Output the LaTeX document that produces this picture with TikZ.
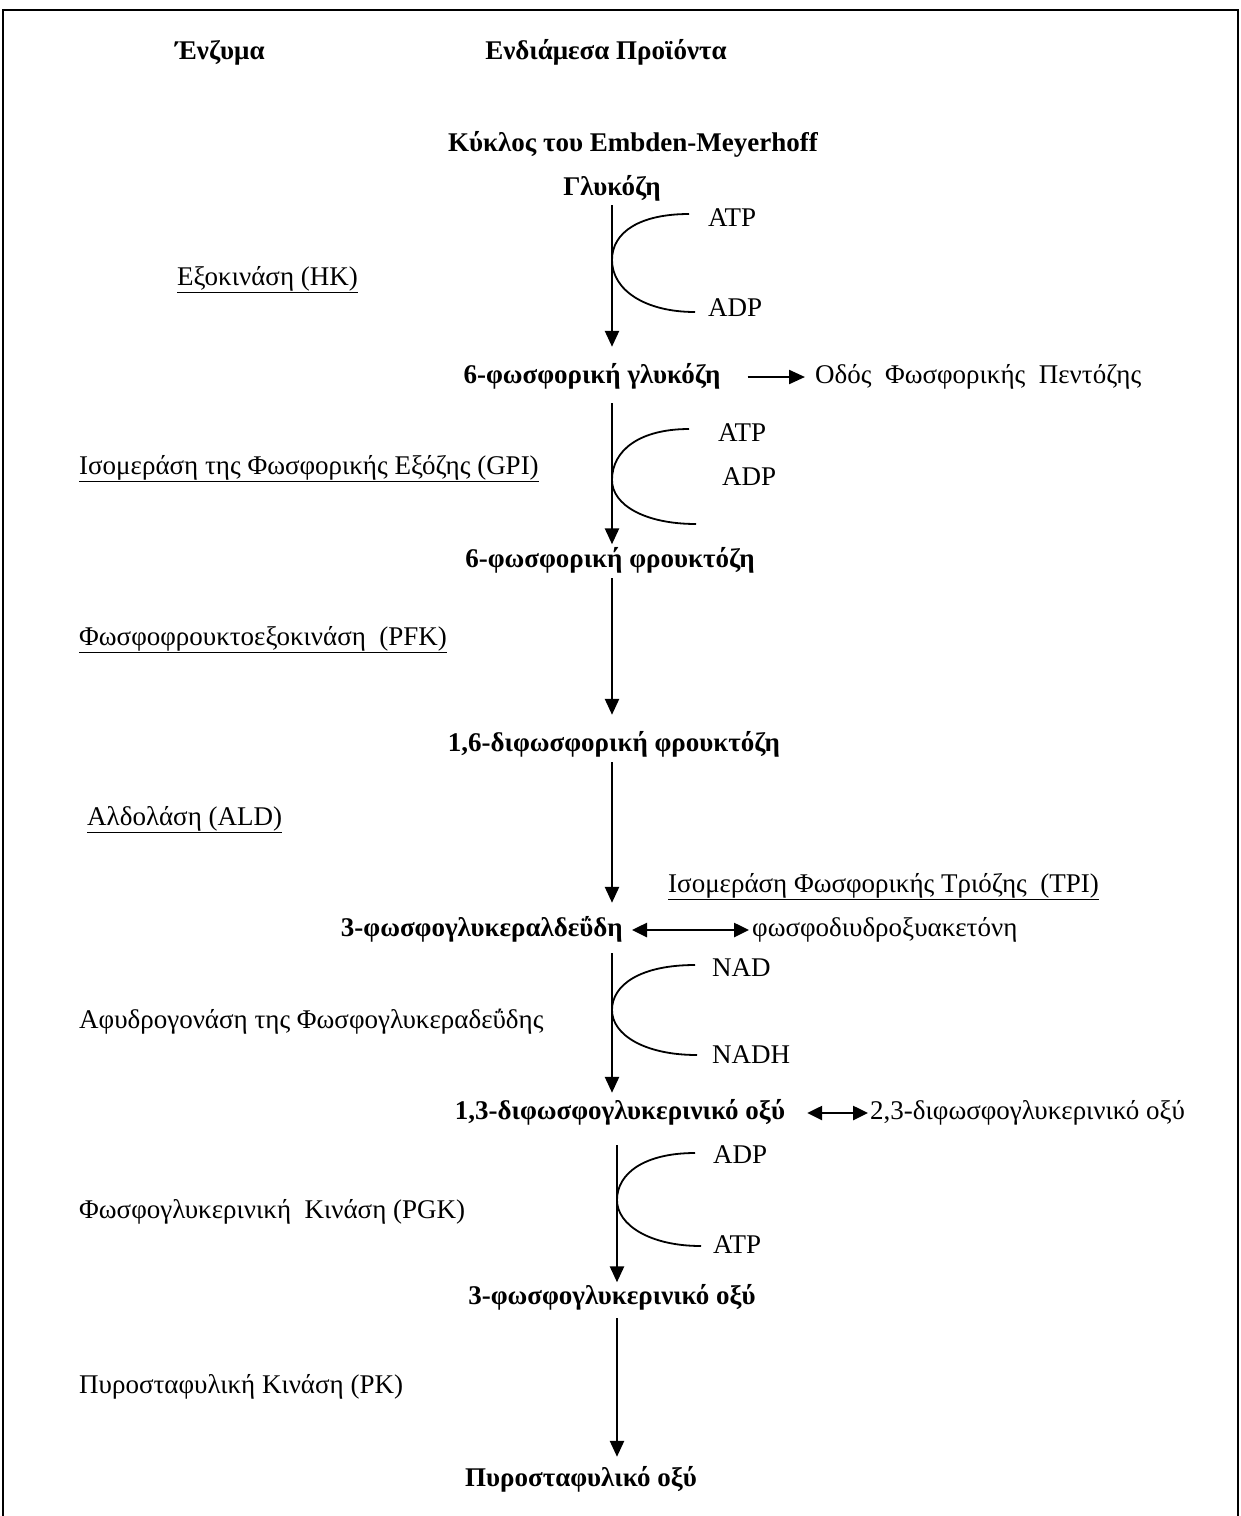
\documentclass[tikz,border=0pt]{standalone}
\usepackage{fontspec}
\setmainfont{Liberation Serif}
\usetikzlibrary{arrows.meta}
\begin{document}
\begin{tikzpicture}[x=1pt,y=-1pt,
  every node/.style={inner sep=0pt,font=\fontsize{27}{31}\selectfont,text height=19pt,text depth=6pt},
  prod/.style={font=\fontsize{27}{31}\selectfont\bfseries},
  lbl/.style={anchor=west},
  arr/.style={line width=2.5pt,-{Triangle[length=16pt,width=14pt]}},
  darr/.style={line width=2.6pt,{Triangle[length=15pt,width=14pt]}-{Triangle[length=15pt,width=14pt]}},
  cof/.style={line width=1.8pt}]
\useasboundingbox (0,0) rectangle (1241,1516);
\draw[line width=1.5pt] (3,1516) -- (3,10) -- (1238,10) -- (1238,1516);
% headers
\node[prod] (h1) at (220,53) {Ένζυμα};
\node[prod] (h2) at (606,53) {Ενδιάμεσα Προϊόντα};
\node[prod] (cyc) at (633,145) {Κύκλος του Embden-Meyerhoff};
% products
\node[prod] (glc) at (612,189) {Γλυκόζη};
\node[prod] (g6p) at (592,377) {6-φωσφορική γλυκόζη};
\node[prod] (f6p) at (610,561) {6-φωσφορική φρουκτόζη};
\node[prod] (fbp) at (614,745) {1,6-διφωσφορική φρουκτόζη};
\node[prod,anchor=east] (gap) at (623,930) {3-φωσφογλυκεραλδεΰδη};
\node[prod] (bpg) at (620,1113) {1,3-διφωσφογλυκερινικό οξύ};
\node[prod] (pg3) at (612,1298) {3-φωσφογλυκερινικό οξύ};
\node[prod] (pyr) at (581,1480) {Πυροσταφυλικό οξύ};
% side products
\node[lbl] (ppp) at (815,377) {Οδός\ \ Φωσφορικής\ \ Πεντόζης};
\node[lbl] (dhap) at (752,930) {φωσφοδιυδροξυακετόνη};
\node[lbl] (dpg) at (870,1113) {2,3-διφωσφογλυκερινικό οξύ};
% enzymes
\node[lbl] (hk) at (177,279) {\underline{Εξοκινάση (HK)}};
\node[lbl] (gpi) at (79,468) {\underline{Ισομεράση της Φωσφορικής Εξόζης (GPI)}};
\node[lbl] (pfk) at (79,639) {\underline{Φωσφοφρουκτοεξοκινάση\ \ (PFK)}};
\node[lbl] (ald) at (87,819) {\underline{Αλδολάση (ALD)}};
\node[lbl] (tpi) at (668,886) {\underline{Ισομεράση Φωσφορικής Τριόζης\ \ (TPI)}};
\node[lbl] (gapdh) at (79,1022) {Αφυδρογονάση της Φωσφογλυκεραδεΰδης};
\node[lbl] (pgk) at (79,1212) {Φωσφογλυκερινική\ \ Κινάση (PGK)};
\node[lbl] (pk) at (79,1387) {Πυροσταφυλική Κινάση (PK)};
% cofactors
\node[lbl] (atp1) at (708,220) {ATP};
\node[lbl] (adp1) at (708,310) {ADP};
\node[lbl] (atp2) at (718,435) {ATP};
\node[lbl] (adp2) at (722,479) {ADP};
\node[lbl] (nad) at (712,970) {NAD};
\node[lbl] (nadh) at (712,1057) {NADH};
\node[lbl] (adp3) at (713,1157) {ADP};
\node[lbl] (atp3) at (713,1247) {ATP};
% axes
\coordinate (ax) at (612,0);
\coordinate (ax2) at (617,0);
% main arrows
\draw[arr,shorten <=3.5pt,shorten >=17.5pt] (glc.south -| ax) -- (g6p.north -| ax);
\draw[arr,shorten <=13.5pt,shorten >=4pt] (g6p.south -| ax) -- (f6p.north -| ax);
\draw[arr,shorten <=4.5pt,shorten >=17.5pt] (f6p.south -| ax) -- (fbp.north -| ax);
\draw[arr,shorten <=4.5pt,shorten >=14.5pt] (fbp.south -| ax) -- (gap.north -| ax);
\draw[arr,shorten <=10.5pt,shorten >=7.5pt] (gap.south -| ax) -- (bpg.north -| ax);
\draw[arr,shorten <=19.5pt,shorten >=3pt] (bpg.south -| ax2) -- (pg3.north -| ax2);
\draw[arr,shorten <=7.5pt,shorten >=10.5pt] (pg3.south -| ax2) -- (pyr.north -| ax2);
% side arrows
\draw[arr,line width=2.2pt,shorten <=27pt,shorten >=10pt] (g6p.east) -- (ppp.west);
\draw[darr,shorten <=9pt,shorten >=3pt] (gap.east) -- (dhap.west);
\draw[darr,shorten <=22pt,shorten >=2pt] (bpg.east) -- (dpg.west);
% cofactor curves
\draw[cof] (689,214) .. controls (640,214) and (612,232) .. (612,260) .. controls (612,290) and (645,312) .. (695,312);
\draw[cof] (689,429) .. controls (640,429) and (612,450) .. (612,480) .. controls (612,505) and (645,524) .. (696,524);
\draw[cof] (695,965) .. controls (640,965) and (612,985) .. (612,1010) .. controls (612,1035) and (645,1055) .. (697,1055);
\draw[cof] (695,1153) .. controls (645,1153) and (617,1173) .. (617,1200) .. controls (617,1225) and (650,1246) .. (701,1246);
\end{tikzpicture}
\end{document}
